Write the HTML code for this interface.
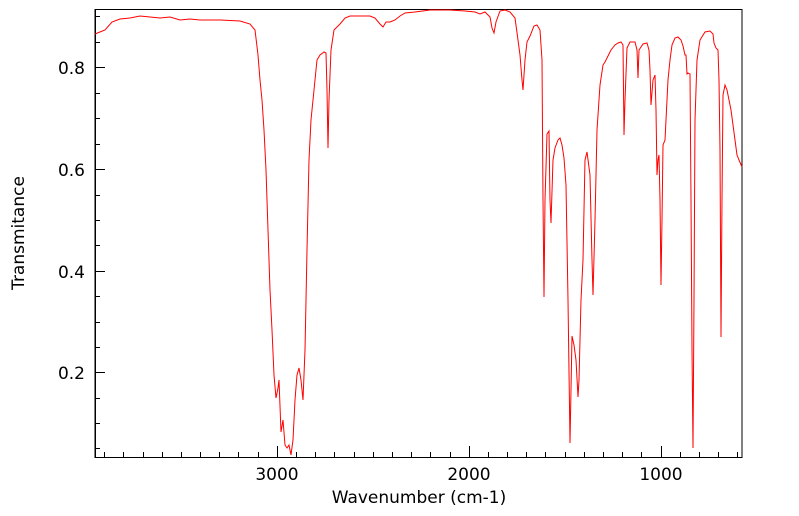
<!DOCTYPE html>
<html><head><meta charset="utf-8"><style>body{margin:0;background:#fff}svg{display:block}text{font-family:"DejaVu Sans","Liberation Sans",sans-serif;fill:#000}</style></head><body>
<svg width="799" height="516" viewBox="0 0 799 516">
<rect x="95" y="9.5" width="647" height="448" fill="none" stroke="#000" stroke-width="1"/>
<g stroke="#000" stroke-width="1">
<path d="M95.5 457.5V9.5M95 457.5H742"/>
<path d="M277.5 457V446"/><path d="M469.5 457V446"/><path d="M661.5 457V446"/>
<path d="M104.5 457v-5M123.5 457v-5M143.5 457v-5M162.5 457v-5M181.5 457v-5M200.5 457v-5M219.5 457v-5M238.5 457v-5M258.5 457v-5M296.5 457v-5M315.5 457v-5M334.5 457v-5M354.5 457v-5M373.5 457v-5M392.5 457v-5M411.5 457v-5M430.5 457v-5M450.5 457v-5M488.5 457v-5M507.5 457v-5M526.5 457v-5M545.5 457v-5M565.5 457v-5M584.5 457v-5M603.5 457v-5M622.5 457v-5M641.5 457v-5M680.5 457v-5M699.5 457v-5M718.5 457v-5M737.5 457v-5"/>
<path d="M95 67.5h10M95 169.5h10M95 271.5h10M95 372.5h10"/>
<path d="M95 16.5h5M95 42.5h5M95 93.5h5M95 118.5h5M95 144.5h5M95 195.5h5M95 220.5h5M95 245.5h5M95 296.5h5M95 322.5h5M95 347.5h5M95 398.5h5M95 423.5h5M95 448.5h5"/>
</g>
<g font-size="17" text-anchor="end">
<text x="85" y="74">0.8</text><text x="85" y="176">0.6</text><text x="85" y="278">0.4</text><text x="85" y="379">0.2</text>
</g>
<g font-size="17" text-anchor="middle">
<text x="277" y="480">3000</text><text x="469" y="480">2000</text><text x="661" y="480">1000</text>
<text x="419" y="503">Wavenumber (cm-1)</text>
<text transform="translate(24,233) rotate(-90)">Transmitance</text>
</g>
<polyline fill="none" stroke="#f00" stroke-width="1" points="95,34 105,30 112,22 120,19 130,18 140,16 150,17 160,18 170,17 180,20 190,19 200,20 220,20 240,21 250,24 255,30 258,55 260,80 262,100 264,130 266,170 268,230 270,290 272,330 274,375 276,398 278,388 279,380 281,432 283,420 285,445 287,448 289,445 291,455 293,440 295,400 297,375 299,368 301,380 303,400 305,350 307,250 309,160 311,120 314,90 317,60 320,55 324,52 326,53 327,90 328,148 329,100 331,50 334,30 340,24 345,18 350,16 360,16 370,16 375,18 380,24 383,27 386,22 390,22 395,20 400,16 405,13 415,12 430,10 450,10 465,11 475,12 480,14 485,12 490,17 492,28 494,33 496,22 500,11 505,10 510,12 515,18 518,40 520,55 522,80 523,90 525,60 527,42 530,36 534,26 537,25 540,30 542,60 543,200 544,297 545,200 547,134 549,131 550,200 551,223 553,160 555,148 558,140 560,138 562,145 564,158 566,185 568,300 570,443 571,390 572,336 574,345 576,360 578,397 579,380 581,300 583,260 585,160 587,152 590,175 592,260 593,295 595,220 597,130 600,85 603,65 605,62 608,56 611,50 615,45 618,43 621,42 623,45 624,135 625,100 627,48 630,42 635,42 637,50 638,78 639,50 643,44 647,43 649,50 650,70 651,105 653,80 655,75 656,110 657,175 658,160 659,155 660,200 661,285 662,220 663,145 665,140 667,100 668,80 670,60 672,45 675,38 678,37 681,40 683,46 685,55 686,55 687,74 688,73 690,74 691,200 692,350 693,448 694,300 695,120 697,60 700,40 705,32 710,31 713,34 714,43 716,48 718,50 719,80 720,150 721,337 722,200 723,95 725,85 727,90 729,100 731,110 733,125 735,140 737,155 739,160 742,167"/>
</svg>
</body></html>
